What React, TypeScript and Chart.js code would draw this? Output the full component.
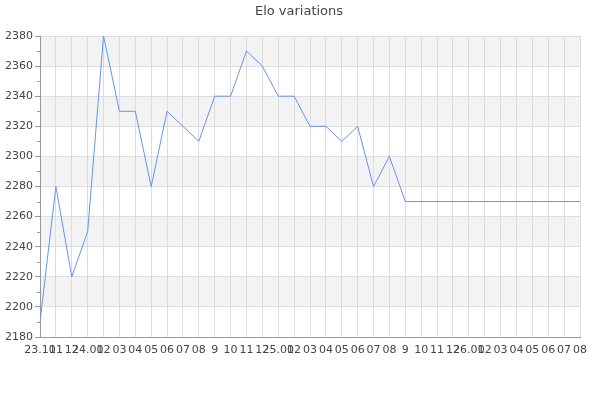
import React, { useEffect, useRef } from "react";
import { Chart, registerables } from "chart.js";

Chart.register(...registerables);

const categories: string[] = [
  "23.10", "11", "12", "24.01", "02", "03", "04", "05", "06", "07", "08", "9",
  "10", "11", "12", "25.01", "02", "03", "04", "05", "06", "07", "08", "9",
  "10", "11", "12", "26.01", "02", "03", "04", "05", "06", "07", "08",
];

const eloValues: number[] = [
  2190, 2280, 2220, 2250, 2380, 2330, 2330, 2280, 2330, 2320, 2310, 2340,
  2340, 2370, 2360, 2340, 2340, 2320, 2320, 2310, 2320, 2280, 2300, 2270,
  2270, 2270, 2270, 2270, 2270, 2270, 2270, 2270, 2270, 2270, 2270,
];

const yMin = 2180;
const yMax = 2380;
const yStep = 20;
const titleText = "Elo variations";

const FONT = "'DejaVu Sans', sans-serif";

const bandsPlugin = {
  id: "bands",
  beforeDraw(chart: any) {
    const { ctx, chartArea } = chart;
    const y = chart.scales.y;
    ctx.save();
    ctx.fillStyle = "#f3f3f3";
    let k = 0;
    for (let v = yMin; v < yMax; v += yStep, k++) {
      if (k % 2 === 1) {
        const top = y.getPixelForValue(v + yStep);
        const bot = y.getPixelForValue(v);
        ctx.fillRect(chartArea.left, top, chartArea.right - chartArea.left, bot - top);
      }
    }
    ctx.restore();
  },
  afterDraw(chart: any) {
    const { ctx, chartArea } = chart;
    const y = chart.scales.y;
    ctx.save();
    ctx.strokeStyle = "#999";
    ctx.lineWidth = 1;
    for (let v = yMin + yStep / 2; v < yMax; v += yStep) {
      const py = Math.round(y.getPixelForValue(v)) + 0.5;
      ctx.beginPath();
      ctx.moveTo(chartArea.left - 3, py);
      ctx.lineTo(chartArea.left, py);
      ctx.stroke();
    }
    // title, centred on the canvas
    ctx.fillStyle = "#444";
    ctx.font = `13px ${FONT}`;
    ctx.textAlign = "center";
    ctx.textBaseline = "middle";
    ctx.fillText(titleText, chart.width / 2 - 1, 12);
    ctx.restore();
  },
};

export default function App() {
  const ref = useRef<HTMLCanvasElement | null>(null);
  useEffect(() => {
    if (!ref.current) return;
    const chart = new Chart(ref.current, {
      type: "line",
      data: {
        labels: categories,
        datasets: [
          {
            data: eloValues,
            borderColor: "#6495ed",
            borderWidth: 1,
            pointRadius: 0,
            tension: 0,
            fill: false,
          },
        ],
      },
      plugins: [bandsPlugin],
      options: {
        animation: false,
        responsive: true,
        maintainAspectRatio: false,
        layout: { padding: { top: 36, right: 20, bottom: 0, left: 0 } },
        plugins: {
          legend: { display: false },
          tooltip: { enabled: false },
          title: { display: false },
        },
        scales: {
          x: {
            type: "category",
            offset: false,
            grid: {
              color: "#dddddd",
              drawTicks: false,
              lineWidth: 1,
            },
            border: { color: "#999", width: 1 },
            ticks: {
              autoSkip: false,
              maxRotation: 0,
              minRotation: 0,
              padding: 7,
              color: "#444",
              font: { family: FONT, size: 11 },
            },
            afterFit(scale: any) {
              scale.height = 63;
            },
          },
          y: {
            min: yMin,
            max: yMax,
            grid: {
              color: "#dddddd",
              tickColor: "#999",
              tickLength: 5,
              lineWidth: 1,
            },
            border: { color: "#999", width: 1 },
            ticks: {
              stepSize: yStep,
              padding: 2,
              color: "#444",
              font: { family: FONT, size: 11 },
              callback: (value: any) => String(value),
            },
            afterFit(scale: any) {
              scale.width = 40;
            },
          },
        },
      },
    });
    return () => chart.destroy();
  }, []);
  return (
    <div style={{ position: "fixed", left: 0, top: 0, width: 600, height: 400, background: "#fff" }}>
      <canvas ref={ref} />
    </div>
  );
}
